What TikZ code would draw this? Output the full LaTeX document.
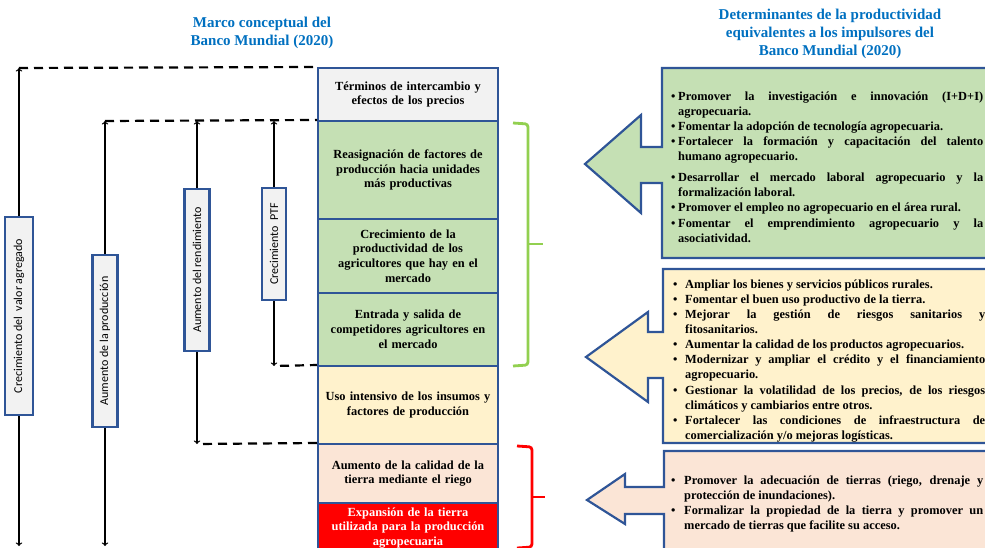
\documentclass[tikz,border=0pt]{standalone}
\usepackage{fontspec}
\setmainfont{Liberation Serif}
\newfontfamily\labelfont{Carlito}
\usepackage{tikz}
\definecolor{boxblue}{RGB}{47,85,151}
\definecolor{titleblue}{RGB}{0,112,192}
\definecolor{greyfill}{RGB}{242,242,242}
\definecolor{greenfill}{RGB}{197,224,180}
\definecolor{yellowfill}{RGB}{255,242,204}
\definecolor{peachfill}{RGB}{251,229,214}
\definecolor{bracegreen}{RGB}{146,208,80}
\newcommand{\itm}[1][7pt]{\par\hangindent=#1\hangafter=1\noindent\makebox[#1][l]{\textbullet}\ignorespaces}

\begin{document}
\begin{tikzpicture}[x=1pt,y=-1pt,
  colbox/.style={draw=boxblue, line width=2pt, minimum width=180pt, text width=174pt, align=center, inner sep=2pt, font=\bfseries\fontsize{12.4}{14.8}\selectfont},
  vlabel/.style={draw=boxblue, line width=2.2pt, fill=greyfill, rotate=90, inner sep=1pt, font=\labelfont\fontsize{12}{14}\selectfont},
  titletext/.style={text=titleblue, align=center, font=\bfseries\fontsize{15}{17.7}\selectfont},
  listtext/.style={anchor=north west, text width=312pt, align=justify, inner sep=0pt, font=\bfseries\fontsize{12.4}{15.1}\selectfont},
  bigarrow/.style={draw=boxblue, line width=2.2pt, line join=miter},
  dline/.style={dashed, dash pattern=on 9pt off 6pt, line width=2.2pt},
  varrow/.style={->, line width=1.3pt},
  bracestyle/.style={line width=2.8pt, rounded corners=3pt}]
\clip (0,0) rectangle (985,548);

\node[titletext] (tl) at (262,33) {Marco conceptual del\\Banco Mundial (2020)};
\node[titletext] (tr) at (830,34) {Determinantes de la productividad\\equivalentes a los impulsores del\\Banco Mundial (2020)};

\node[colbox, fill=greyfill, minimum height=53pt] (t1) at (408,94.5) {Términos de intercambio y\\efectos de los precios};
\node[colbox, fill=greenfill, minimum height=98pt] (t2) at (408,170) {Reasignación de factores de\\producción hacia unidades\\más productivas};
\node[colbox, fill=greenfill, minimum height=74pt] (t3) at (408,256) {Crecimiento de la\\productividad de los\\agricultores que hay en el\\mercado};
\node[colbox, fill=greenfill, minimum height=73pt] (t4) at (408,329.5) {Entrada y salida de\\competidores agricultores en\\el mercado};
\node[colbox, fill=yellowfill, minimum height=78pt] (t5) at (408,405) {Uso intensivo de los insumos y\\factores de producción};
\node[colbox, fill=peachfill, minimum height=59pt] (t6) at (408,473.5) {Aumento de la calidad de la\\tierra mediante el riego};
\node[colbox, fill=red, text=white, minimum height=50pt] (t7) at (408,528) {Expansión de la tierra\\utilizada para la producción\\agropecuaria};

\node[vlabel, minimum width=198pt, minimum height=28pt] (v1) at (19,316) {Crecimiento del~ valor agregado};
\node[vlabel, minimum width=172pt, minimum height=25pt] (v2) at (105,341) {Aumento de la producción};
\node[vlabel, minimum width=162pt, minimum height=25pt] (v3) at (197,270) {Aumento del rendimiento};
\node[vlabel, minimum width=112pt, minimum height=24pt] (v4) at (274,244) {Crecimiento~ PTF};

\coordinate (d1) at (19,68);
\coordinate (b1) at (19,546);
\coordinate (d2) at (105,121);
\coordinate (b2) at (105,546);
\coordinate (d3) at (197,121);
\coordinate (e3) at (197,444);
\coordinate (d4) at (274,121);
\coordinate (e4) at (274,366);

\draw[dline] (d1) -- (t1.north west);
\draw[dline] (d2) -- (t2.north west);
\draw[dline, shorten <=6pt] (e4) -- (t5.north west);
\draw[dline, shorten <=6pt] (e3) -- (t6.north west);
\draw[varrow] (v1) -- (d1);
\draw[varrow] (v1) -- (b1);
\draw[varrow] (v2) -- (d2);
\draw[varrow] (v2) -- (b2);
\draw[varrow] (v3) -- (d3);
\draw[varrow] (v3) -- (e3);
\draw[varrow] (v4) -- (d4);
\draw[varrow] (v4) -- (e4);

\draw[bracestyle, bracegreen] (513,123) -- (528,124) -- (528,365) -- (513,366);
\draw[bracestyle, bracegreen, rounded corners=0pt] (528,244) -- (543,244);
\draw[bracestyle, red] (517,446) -- (532,447) -- (532,547) -- (517,548);
\draw[bracestyle, red, rounded corners=0pt] (532,497) -- (545,497);

\draw[bigarrow, fill=greenfill] (995,68) -- (662,68) -- (662,147) -- (641,147) -- (641,115) -- (585,164) -- (641,213) -- (641,183) -- (662,183) -- (662,258) -- (995,258) -- cycle;
\draw[bigarrow, fill=yellowfill] (995,269) -- (663,269) -- (663,332) -- (648,332) -- (648,312) -- (586,357) -- (648,402) -- (648,378) -- (663,378) -- (663,443) -- (995,443) -- cycle;
\draw[bigarrow, fill=peachfill] (995,451) -- (664,451) -- (664,487) -- (625,487) -- (625,474) -- (587,500) -- (625,524) -- (625,514) -- (664,514) -- (664,560) -- (995,560) -- cycle;

\node[listtext] (g) at (671,85) {%
\itm Promover la investigación e innovación (I+D+I)\linebreak agropecuaria.
\itm Fomentar la adopción de tecnología agropecuaria.
\itm Fortalecer la formación y capacitación del talento\linebreak humano agropecuario.
\par\vspace{6pt}
\itm Desarrollar el mercado laboral agropecuario y la\linebreak formalización laboral.
\itm Promover el empleo no agropecuario en el área rural.
\itm Fomentar el emprendimiento agropecuario y la\linebreak asociatividad.\par};
\node[listtext] (y) at (673,273) {%
\itm[12pt] Ampliar los bienes y servicios públicos rurales.
\itm[12pt] Fomentar el buen uso productivo de la tierra.
\itm[12pt] Mejorar la gestión de riesgos sanitarios y\linebreak fitosanitarios.
\itm[12pt] Aumentar la calidad de los productos agropecuarios.
\itm[12pt] Modernizar y ampliar el crédito y el financiamiento\linebreak agropecuario.
\itm[12pt] Gestionar la volatilidad de los precios, de los riesgos\linebreak climáticos y cambiarios entre otros.
\itm[12pt] Fortalecer las condiciones de infraestructura de\linebreak comercialización y/o mejoras logísticas.\par};
\node[listtext] (p) at (671,469) {%
\itm[13pt] Promover la adecuación de tierras (riego, drenaje y\linebreak protección de inundaciones).
\itm[13pt] Formalizar la propiedad de la tierra y promover un\linebreak mercado de tierras que facilite su acceso.\par};
\end{tikzpicture}
\end{document}
